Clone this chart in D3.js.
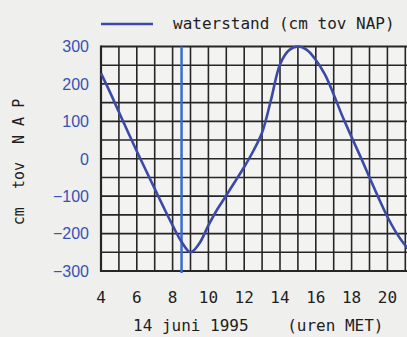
<!DOCTYPE html>
<meta charset="utf-8">
<style>
body { margin: 0; background: #efefed; }
svg { display: block; }
.mono { font-family: "DejaVu Sans Mono", monospace; }
</style>
<body>
<script src="https://d3js.org/d3.v7.min.js"></script>
<script>
// chart data
var hours = [4, 4.5, 5, 5.5, 6, 6.5, 7, 7.5, 8, 8.5, 9, 9.5, 10, 10.5, 11, 11.5, 12, 12.5, 13, 13.5, 14, 14.5, 15, 15.5, 16, 16.5, 17, 17.5, 18, 18.5, 19, 19.5, 20, 20.5, 21, 21.5, 22];
var waterstand = [228, 178, 125, 72, 20, -30, -80, -130, -178, -222, -250, -226, -178, -135, -98, -60, -22, 20, 70, 158, 252, 290, 300, 291, 264, 226, 172, 112, 58, 5, -50, -104, -155, -198, -232, -260, -280];
var meetTijd = 8.5;   // blue marker line
var xTicks = [4, 6, 8, 10, 12, 14, 16, 18, 20];
var yTicks = [300, 200, 100, 0, -100, -200, -300];
var legendText = "waterstand (cm tov NAP)";

var W = 407, H = 337;
var margin = { top: 46.5, left: 101 };

var x = d3.scaleLinear().domain([4, 22]).range([margin.left, margin.left + 18 * 17.9]);
var y = d3.scaleLinear().domain([-300, 300]).range([271, margin.top]);

var svg = d3.select("body").append("svg")
    .attr("width", W)
    .attr("height", H);

// grid cells
svg.append("rect")
    .attr("x", x(4)).attr("y", y(300))
    .attr("width", x(22) - x(4)).attr("height", y(-300) - y(300))
    .attr("fill", "#f3f3f2");

var grid = svg.append("g").attr("stroke", "#262626").attr("stroke-width", 1.6);
grid.selectAll("line.v")
    .data(d3.range(4, 23))
    .enter().append("line")
    .attr("x1", d => x(d)).attr("x2", d => x(d))
    .attr("y1", y(300)).attr("y2", y(-300));
grid.selectAll("line.h")
    .data(d3.range(-300, 301, 50))
    .enter().append("line")
    .attr("x1", x(4)).attr("x2", x(22))
    .attr("y1", d => y(d)).attr("y2", d => y(d))
    .attr("stroke-width", d => Math.abs(d) == 300 ? 2.2 : 1.6);
grid.append("line")
    .attr("x1", x(4)).attr("x2", x(4))
    .attr("y1", y(300) - 1).attr("y2", y(-300) + 1)
    .attr("stroke-width", 2.2);

// time of measurement
svg.append("line")
    .attr("x1", x(meetTijd)).attr("x2", x(meetTijd))
    .attr("y1", y(300)).attr("y2", y(-300) + 2)
    .attr("stroke", "#3a6bd0")
    .attr("stroke-width", 2.5);

// the tide curve
var line = d3.line()
    .x((d, i) => x(hours[i]))
    .y(d => y(d))
    .curve(d3.curveCatmullRom.alpha(0.5));

svg.append("path")
    .datum(waterstand)
    .attr("fill", "none")
    .attr("stroke", "#3b4aa6")
    .attr("stroke-width", 2.6)
    .attr("d", line);

// y tick labels
svg.append("g").selectAll("text")
    .data(yTicks)
    .enter().append("text")
    .attr("x", 89)
    .attr("y", d => y(d))
    .attr("dy", "0.36em")
    .attr("text-anchor", "end")
    .attr("fill", "#3552b4")
    .style("font-family", "'Liberation Sans', Arial, sans-serif")
    .style("font-size", "16px")
    .text(d => d < 0 ? "\u2212" + (-d) : d);

// x tick labels
svg.append("g").selectAll("text")
    .data(xTicks)
    .enter().append("text")
    .attr("class", "mono")
    .attr("x", d => x(d))
    .attr("y", 303)
    .attr("text-anchor", "middle")
    .attr("fill", "#1e1e1e")
    .style("font-size", "16px")
    .text(d => d);

// x title
svg.append("text")
    .attr("class", "mono")
    .attr("x", 133)
    .attr("y", 331)
    .attr("fill", "#1e1e1e")
    .style("font-size", "16px")
    .style("white-space", "pre")
    .text("14 juni 1995    (uren MET)");

// y title
svg.append("text")
    .attr("class", "mono")
    .attr("transform", "translate(24,162) rotate(-90)")
    .attr("text-anchor", "middle")
    .attr("fill", "#1e1e1e")
    .style("font-size", "15px")
    .style("white-space", "pre")
    .text("cm  tov  N A P");

// legend
svg.append("line")
    .attr("x1", 101).attr("x2", 153)
    .attr("y1", 24).attr("y2", 24)
    .attr("stroke", "#3b4aa6")
    .attr("stroke-width", 2.6);
svg.append("text")
    .attr("class", "mono")
    .attr("x", 173)
    .attr("y", 29)
    .attr("fill", "#1e1e1e")
    .style("font-size", "16px")
    .text(legendText);
</script>
</body>
